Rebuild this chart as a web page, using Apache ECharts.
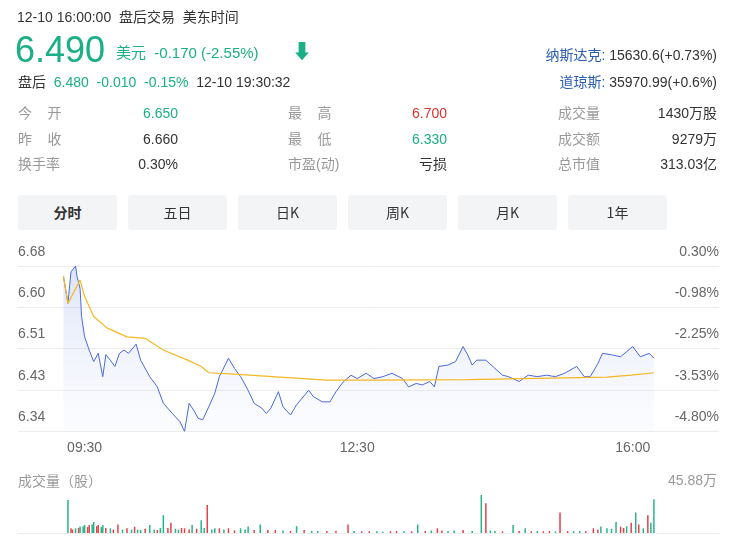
<!DOCTYPE html>
<html><head><meta charset="utf-8">
<script src="https://cdn.jsdelivr.net/npm/echarts@6/dist/echarts.min.js"></script>
<style>
body{margin:0;width:731px;height:546px;position:relative;font-family:"Liberation Sans","Noto Sans CJK SC",sans-serif;color:#333;background:#fff;overflow:hidden}
.a{position:absolute;white-space:nowrap;line-height:1}
.g{color:#1aaf86}.b{color:#2a5db0}.r{color:#e0312f}.gr{color:#999}
.tab{position:absolute;top:195px;width:99px;height:35px;background:#f3f4f6;border-radius:3px;text-align:center;line-height:35px;font-size:14px;color:#333;font-family:"Noto Sans CJK SC",sans-serif}
#c{position:absolute;left:0;top:0;width:731px;height:546px}
</style></head><body>
<div id="c"></div>
<div class="a" style="left:17px;top:10px;font-size:14px">12-10 16:00:00&nbsp;&nbsp;盘后交易&nbsp;&nbsp;美东时间</div>
<div class="a g" style="left:15px;top:32px;font-size:36px">6.490</div>
<div class="a g" style="left:116px;top:45px;font-size:15px">美元&nbsp;&nbsp;-0.170 (-2.55%)</div>
<div class="a g" style="left:292px;top:42px;font-size:20px">&#x2B07;</div>
<div class="a" style="left:18px;top:75px;font-size:14px">盘后 <span class="g">&nbsp;6.480&nbsp;&nbsp;-0.010&nbsp;&nbsp;-0.15%</span>&nbsp;&nbsp;12-10 19:30:32</div>
<div class="a b" style="right:14px;top:48px;font-size:14px">纳斯达克: <span style="color:#333">15630.6(+0.73%)</span></div>
<div class="a b" style="right:14px;top:75px;font-size:14px">道琼斯: <span style="color:#333">35970.99(+0.6%)</span></div>
<div class="a gr" style="left:18px;top:106px;font-size:14px">今&nbsp;&nbsp;&nbsp;&nbsp;开</div><div class="a g" style="right:553px;top:106px;font-size:14px">6.650</div>
<div class="a gr" style="left:18px;top:132px;font-size:14px">昨&nbsp;&nbsp;&nbsp;&nbsp;收</div><div class="a" style="right:553px;top:132px;font-size:14px">6.660</div>
<div class="a gr" style="left:18px;top:157px;font-size:14px">换手率</div><div class="a" style="right:553px;top:157px;font-size:14px">0.30%</div>
<div class="a gr" style="left:288px;top:106px;font-size:14px">最&nbsp;&nbsp;&nbsp;&nbsp;高</div><div class="a r" style="right:284px;top:106px;font-size:14px">6.700</div>
<div class="a gr" style="left:288px;top:132px;font-size:14px">最&nbsp;&nbsp;&nbsp;&nbsp;低</div><div class="a g" style="right:284px;top:132px;font-size:14px">6.330</div>
<div class="a gr" style="left:288px;top:157px;font-size:14px">市盈(动)</div><div class="a" style="right:284px;top:157px;font-size:14px">亏损</div>
<div class="a gr" style="left:558px;top:106px;font-size:14px">成交量</div><div class="a" style="right:14px;top:106px;font-size:14px">1430万股</div>
<div class="a gr" style="left:558px;top:132px;font-size:14px">成交额</div><div class="a" style="right:14px;top:132px;font-size:14px">9279万</div>
<div class="a gr" style="left:558px;top:157px;font-size:14px">总市值</div><div class="a" style="right:14px;top:157px;font-size:14px">313.03亿</div>
<div class="tab" style="left:18px;font-weight:bold">分时</div>
<div class="tab" style="left:128px">五日</div>
<div class="tab" style="left:238px">日K</div>
<div class="tab" style="left:348px">周K</div>
<div class="tab" style="left:458px">月K</div>
<div class="tab" style="left:568px">1年</div>
<div class="a gr" style="left:18px;top:473px;font-size:14px;font-family:'Noto Sans CJK SC'">成交量（股）</div>
<div class="a gr" style="right:14px;top:473px;font-size:14px">45.88万</div>
<script>
const priceTimes=[0,3,5,8,9,11,12,14,17,20,23,26,28,31,34,37,40,43,48,51,57,62,66,72,77,80,83,86,89,92,96,100,103,109,113,117,122,126,131,134,137,142,145,150,154,162,165,171,176,180,185,190,194,200,205,211,217,224,228,233,237,242,245,248,254,259,264,267,270,273,279,285,290,294,301,307,313,319,325,331,339,344,348,353,356,362,368,376,381,387,390];
const prices=[6.659,6.603,6.668,6.680,6.658,6.634,6.576,6.534,6.507,6.483,6.500,6.452,6.497,6.486,6.473,6.500,6.507,6.500,6.519,6.486,6.452,6.431,6.397,6.376,6.359,6.339,6.397,6.383,6.366,6.363,6.390,6.418,6.452,6.490,6.469,6.452,6.424,6.397,6.387,6.376,6.387,6.421,6.390,6.373,6.394,6.424,6.411,6.400,6.400,6.421,6.442,6.455,6.448,6.459,6.448,6.452,6.459,6.448,6.431,6.438,6.435,6.442,6.431,6.473,6.476,6.483,6.514,6.497,6.476,6.486,6.486,6.469,6.455,6.452,6.442,6.455,6.452,6.455,6.452,6.459,6.473,6.452,6.452,6.479,6.500,6.497,6.493,6.514,6.493,6.500,6.490];
const avgTimes=[0,3,11,14,20,29,42,54,66,82,91,96,113,143,174,205,267,359,375,390];
const avgPrices=[6.659,6.603,6.651,6.617,6.576,6.552,6.534,6.531,6.507,6.486,6.473,6.460,6.457,6.451,6.445,6.445,6.446,6.451,6.455,6.460];
const volTimes=[3,5,6,8,10,11,13,14,16,17,19,20,22,23,25,26,28,31,33,36,39,42,45,47,49,51,54,57,60,62,64,66,69,71,74,76,78,80,83,85,88,91,93,95,98,100,103,106,109,113,117,120,122,126,130,135,140,145,150,154,159,164,168,174,180,188,192,197,202,207,211,216,220,225,230,234,239,243,247,250,254,258,264,270,276,279,282,285,290,297,301,305,309,313,317,321,325,328,333,337,341,345,350,353,355,359,362,365,368,370,372,375,378,380,383,386,388,390];
const volValues=[38.8,5.5,4,5.5,6,7.5,8,9.4,7,9.4,10,13,8,9.4,7,9.4,6,5.5,4,10,4,5.5,4,7.5,4,3.5,5,9.4,4,3.5,6,21,6,12,5,4,6,5.5,4,9.4,5,15,6,33,4,5.5,5.5,4,5.5,3,5.5,4,7.5,3.5,10,3.5,3.5,3,2.5,8,3.5,2.5,2.3,2.3,2.5,10,2.3,2,2,2,1.5,2,2.3,2,2,10,2.3,3,5.5,3,2.3,3,3.5,2.3,44.7,35,3,2.3,2,9.4,2.3,5.5,2,2.3,2,2.3,2,24,2.3,2,2.3,2,5.5,4,7.5,5.5,5,13,7.5,6,8,12,24,10,5.5,21,12,39.6];
const volDir=[1,-1,-1,1,-1,1,1,1,-1,-1,1,1,-1,-1,1,1,-1,1,-1,-1,1,-1,1,-1,1,1,-1,1,1,-1,1,1,-1,-1,1,1,-1,-1,-1,1,-1,1,1,-1,1,1,-1,1,-1,-1,1,1,1,-1,1,-1,-1,1,-1,1,-1,1,1,-1,-1,-1,1,-1,-1,1,1,-1,-1,1,-1,1,-1,1,-1,-1,1,1,-1,1,1,-1,1,1,-1,1,-1,1,-1,1,-1,-1,1,-1,-1,1,1,-1,-1,-1,1,1,1,1,-1,-1,1,-1,1,-1,1,-1,1,1];
const leftLabels=['6.34','6.43','6.51','6.60','6.68'];
const rightLabels=['-4.80%','-3.53%','-2.25%','-0.98%','0.30%'];
const timeTicks=[14,194,376], timeLabels=['09:30','12:30','16:00'];
const ch=echarts.init(document.getElementById('c'));
const lab={color:'#666',fontSize:14,fontFamily:'Liberation Sans'};
const hideAx={axisLine:{show:false},axisTick:{show:false}};
ch.setOption({animation:false,
grid:[{left:18,right:12,top:266,bottom:115},{left:18,right:12,top:494,bottom:13}],
xAxis:[Object.assign({type:'value',gridIndex:0,min:-30,max:433,splitLine:{show:false},
 axisLabel:Object.assign({customValues:timeTicks,margin:10,formatter:v=>timeLabels[timeTicks.indexOf(v)]},lab)},hideAx),
 {type:'value',gridIndex:1,min:-30,max:433,splitLine:{show:false},axisTick:{show:false},axisLabel:{show:false},axisLine:{lineStyle:{color:'#eee'}}}],
yAxis:[Object.assign({type:'value',gridIndex:0,min:6.34,max:6.68,interval:0.085,splitLine:{lineStyle:{color:'#ececec'}},
 axisLabel:Object.assign({inside:true,verticalAlign:'bottom',align:'left',margin:0,padding:[0,0,7,0],formatter:(v)=>leftLabels[Math.round((v-6.34)/0.085)]},lab)},hideAx),
 Object.assign({type:'value',gridIndex:0,position:'right',min:6.34,max:6.68,interval:0.085,splitLine:{show:false},
 axisLabel:Object.assign({inside:true,verticalAlign:'bottom',align:'right',margin:0,padding:[0,0,7,0],formatter:(v)=>rightLabels[Math.round((v-6.34)/0.085)]},lab)},hideAx),
 {type:'value',gridIndex:1,min:0,max:45.88,show:false}],
series:[
 {type:'line',xAxisIndex:0,yAxisIndex:0,symbol:'none',data:priceTimes.map((t,i)=>[t,prices[i]]),lineStyle:{color:'#4a69de',width:1},
  areaStyle:{origin:'start',color:new echarts.graphic.LinearGradient(0,0,0,1,[{offset:0,color:'rgba(150,170,235,0.45)'},{offset:1,color:'rgba(220,228,250,0.15)'}])}},
 {type:'line',xAxisIndex:0,yAxisIndex:0,symbol:'none',data:avgTimes.map((t,i)=>[t,avgPrices[i]]),lineStyle:{color:'#f5b822',width:1.2}},
 {type:'bar',xAxisIndex:1,yAxisIndex:2,barWidth:1.5,data:volTimes.map((t,i)=>({value:[t,volValues[i]],itemStyle:{color:volDir[i]>0?'#27b38a':'#e0424a'}}))}
]});
</script></body></html>
